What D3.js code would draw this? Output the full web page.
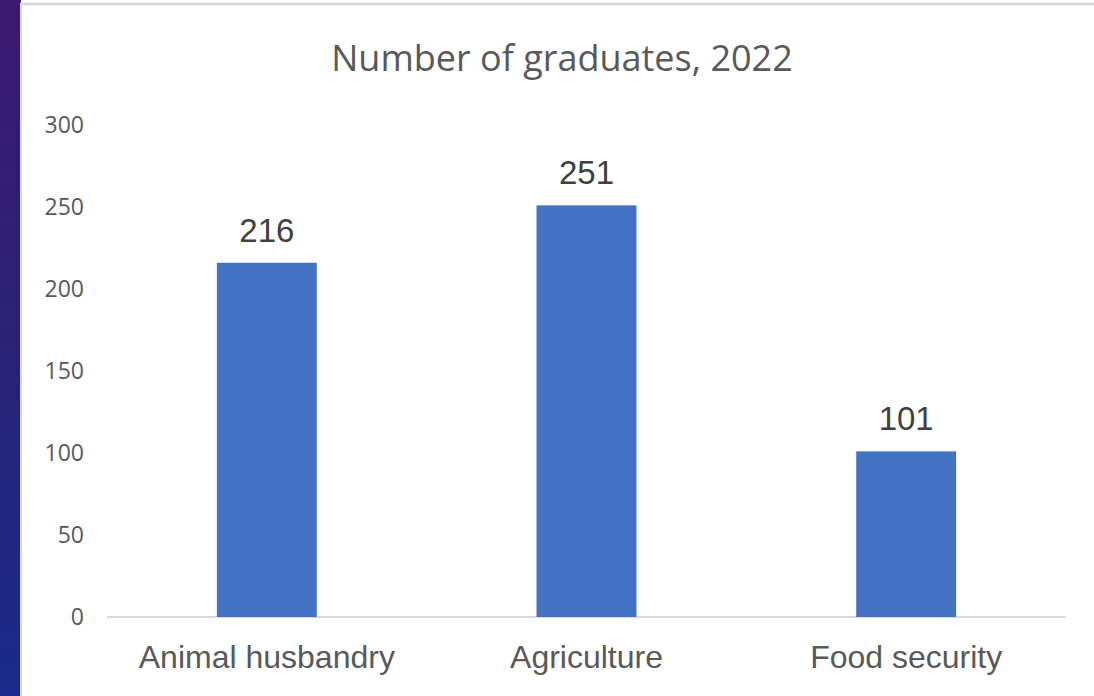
<!DOCTYPE html>
<html>
<head>
<meta charset="utf-8">
<script src="https://cdn.jsdelivr.net/npm/d3@7"></script>
<style>
  body { margin: 0; background: #fff; }
  svg { display: block; }
</style>
</head>
<body>
<svg id="chart" width="1094" height="696"></svg>
<script>
// data
const categories = ['Animal husbandry', 'Agriculture', 'Food security'];
const graduates = [216, 251, 101];
const yTicks = [0, 50, 100, 150, 200, 250, 300];
const title = 'Number of graduates, 2022';

const svg = d3.select('#chart');
const W = 1094, H = 696;
const margin = {top: 125, right: 28, bottom: 79, left: 107};

// background strip on the left (slide edge)
const defs = svg.append('defs');
const grad = defs.append('linearGradient')
  .attr('id', 'strip').attr('x1', 0).attr('y1', 0).attr('x2', 0).attr('y2', 1);
grad.append('stop').attr('offset', '0%').attr('stop-color', '#3b1a6f');
grad.append('stop').attr('offset', '50%').attr('stop-color', '#2a2277');
grad.append('stop').attr('offset', '100%').attr('stop-color', '#1b2c8a');

svg.append('rect').attr('x', 0).attr('y', 0).attr('width', 21).attr('height', H)
  .style('fill', 'url(#strip)');
svg.append('rect').attr('x', 20).attr('y', 3).attr('width', W - 20).attr('height', H)
  .style('fill', '#fff');
svg.append('line').attr('x1', 21).attr('x2', 21).attr('y1', 3).attr('y2', H)
  .style('stroke', '#d9d9d9').style('stroke-width', 2);
svg.append('line').attr('x1', 20).attr('x2', W).attr('y1', 4).attr('y2', 4)
  .style('stroke', '#d9d9d9').style('stroke-width', 3);

var x = d3.scaleBand()
  .domain(categories)
  .range([margin.left, W - margin.right])
  .paddingInner(0.6875)
  .paddingOuter(0.34375);

var y = d3.scaleLinear()
  .domain([0, 300])
  .range([H - margin.bottom, margin.top]);

// title
svg.append('text')
  .attr('x', 562).attr('y', 71)
  .attr('text-anchor', 'middle')
  .style('font-family', 'Open Sans, Noto Sans, sans-serif')
  .style('font-size', '36px')
  .style('fill', '#595959')
  .text(title);

// y axis labels (no line, no ticks)
var yAxis = svg.append('g')
  .attr('transform', 'translate(' + (margin.left - 23) + ',0)')
  .call(d3.axisLeft(y).tickValues(yTicks).tickSize(0).tickPadding(0));
yAxis.select('.domain').remove();
yAxis.selectAll('text')
  .style('font-family', 'Open Sans, Noto Sans, sans-serif')
  .style('font-size', '23px')
  .style('fill', '#595959');

// x axis
var xAxis = svg.append('g')
  .attr('transform', 'translate(0,' + y(0) + ')')
  .call(d3.axisBottom(x).tickSize(0).tickPadding(28).tickSizeOuter(0));
xAxis.select('.domain')
  .attr('d', 'M' + margin.left + ',0H' + (W - margin.right))
  .style('stroke', '#d9d9d9').style('stroke-width', 2);
xAxis.selectAll('text')
  .style('font-family', 'Liberation Sans, Arial, sans-serif')
  .style('font-size', '32px')
  .style('fill', '#595959');

// bars
svg.append('g').selectAll('rect')
  .data(graduates)
  .enter()
  .append('rect')
  .attr('x', (d, i) => x(categories[i]))
  .attr('y', d => y(d))
  .attr('width', x.bandwidth())
  .attr('height', d => y(0) - y(d))
  .style('fill', '#4472c4');

// value labels
svg.append('g').selectAll('text')
  .data(graduates)
  .enter()
  .append('text')
  .attr('x', (d, i) => x(categories[i]) + x.bandwidth() / 2)
  .attr('y', d => y(d) - 21)
  .attr('text-anchor', 'middle')
  .style('font-family', 'Liberation Sans, Arial, sans-serif')
  .style('font-size', '33px')
  .style('fill', '#404040')
  .text(d => d);
</script>
</body>
</html>
